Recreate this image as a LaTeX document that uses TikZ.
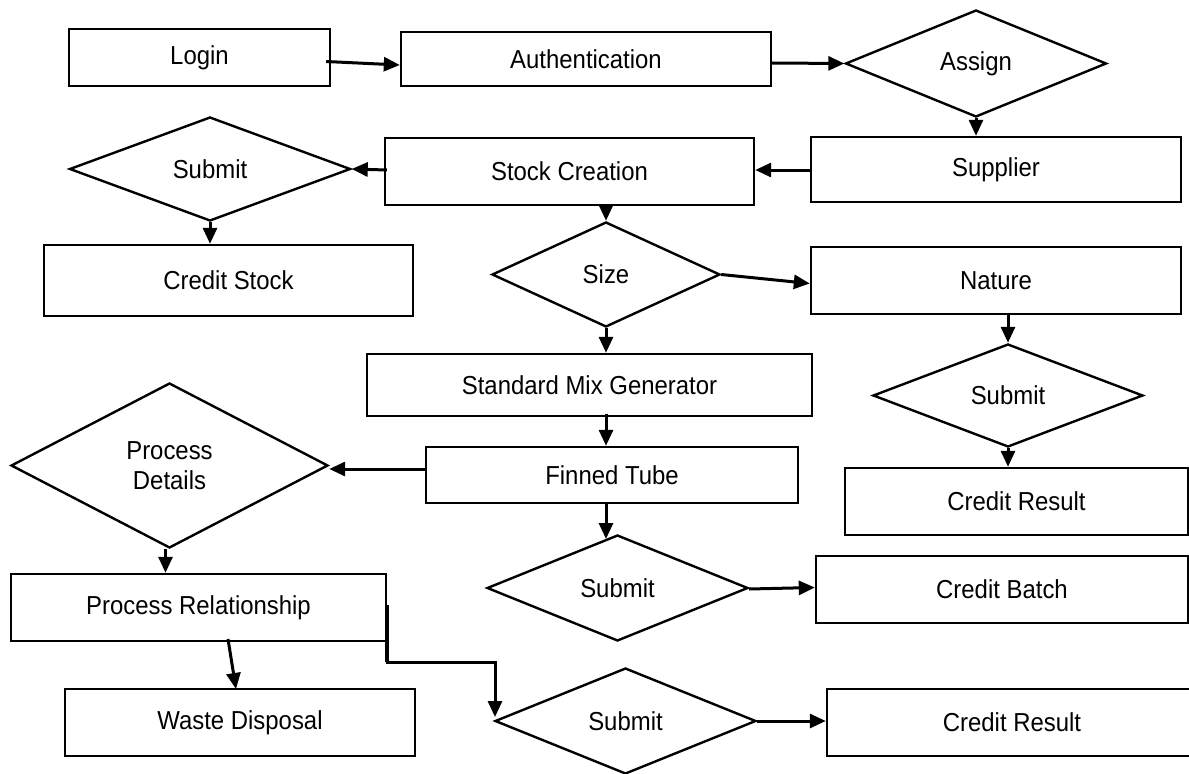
\documentclass[tikz,border=0pt]{standalone}
\usepackage{fontspec}
\setmainfont{Liberation Sans}[FakeStretch=0.92]
\usetikzlibrary{shapes.geometric,arrows.meta,calc}

\tikzset{
  box/.style={draw=black, line width=2.4bp, rectangle, inner sep=0pt,
    minimum width=#1},
  box/.default=370bp,
  dia/.style={draw=black, line width=2.4bp, diamond, inner sep=0pt, aspect=1},
  arr/.style={line width=3bp, -{Triangle[length=16bp,width=14bp]}},
  lbl/.style={font=\fontsize{26bp}{30bp}\selectfont}
}

\begin{document}
\begin{tikzpicture}[x=1bp, y=-1bp, lbl]
\useasboundingbox[fill=white] (0,0) rectangle (1189,774);

% process boxes
\node[box=261bp, minimum height=57bp] (login) at (199.5,57.5) {Login};
\node[box=370bp, minimum height=54bp] (auth) at (586,59) {Authentication};
\node[box=370bp, minimum height=65bp] (supplier) at (996,169.5) {Supplier};
\node[box=369bp, minimum height=67bp] (stock) at (569.5,171.5) {Stock Creation};
\node[box=369bp, minimum height=71bp] (cstock) at (228.5,280.5) {Credit Stock};
\node[box=370bp, minimum height=67bp] (nature) at (996,280.5) {Nature};
\node[box=445bp, minimum height=62bp] (mix) at (589.5,385) {Standard Mix Generator};
\node[box=372bp, minimum height=56bp] (fin) at (612,475) {Finned Tube};
\node[box=343bp, minimum height=67bp] (cres1) at (1016.5,501.5) {Credit Result};
\node[box=375bp, minimum height=67bp] (prel) at (198.5,607.5) {Process Relationship};
\node[box=372bp, minimum height=67bp] (cbatch) at (1002,589.5) {Credit Batch};
\node[box=350bp, minimum height=67bp] (waste) at (240,722.5) {Waste Disposal};
\node[box=374bp, minimum height=67bp] (cres2) at (1014,722.5) {};
\node at (1012,722) {Credit Result};

% decisions
\node[dia, minimum width=261bp, minimum height=107bp] (assign) at (976,63.5) {Assign};
\node[dia, minimum width=281bp, minimum height=104bp] (sub1) at (210,169) {Submit};
\node[dia, minimum width=228bp, minimum height=105bp] (size) at (606,274.5) {Size};
\node[dia, minimum width=270bp, minimum height=103bp] (sub2) at (1008,395.5) {Submit};
\node[dia, minimum width=317bp, minimum height=165bp, align=center] (pd) at (169.5,465.5)
  {\fontsize{26bp}{34bp}\selectfont Process\\Details};
\node[dia, minimum width=261bp, minimum height=106bp] (sub3) at (617.5,588) {Submit};
\node[dia, minimum width=261bp, minimum height=106bp] (sub4) at (625.5,721) {Submit};

% flow connectors
\draw[arr] ([xshift=-5bp,yshift=-4bp]login.east) -- ([yshift=-6bp]auth.west);
\draw[arr] ([yshift=-4bp]auth.east) -- (assign.west);
\draw[arr] (assign.south) -- (assign.south |- supplier.north);
\draw[arr] (supplier.west |- 0,170) -- (stock.east |- 0,170);
\draw[arr] ([xshift=3bp]stock.west |- 0,170) -- (sub1.east);
\draw[arr] (sub1.south) -- (sub1.south |- cstock.north);
\draw[arr] (size.north |- stock.south) -- (size.north);
\draw[arr] (size.east) -- ([yshift=-3bp]nature.west);
\draw[arr] (sub2.north |- nature.south) -- (sub2.north);
\draw[arr] (sub2.south) -- (sub2.south |- cres1.north);
\draw[arr] (size.south) -- (size.south |- mix.north);
\draw[arr] ([yshift=3bp]size.south |- mix.south) -- (size.south |- fin.north);
\draw[arr] (fin.west |- 0,469) -- (pd.east |- 0,469);
\coordinate (s3in) at (606,539);
\draw[arr] (s3in |- fin.south) -- (s3in);
\draw[arr] ([xshift=-4bp]pd.south) -- ([xshift=-4bp]pd.south |- prel.north);
\draw[arr] ([yshift=-1bp]sub3.east) -- ([yshift=2bp]cbatch.west);
\coordinate (wtop) at (236,689);
\draw[arr] (228,639) -- (wtop);
\draw[line width=4bp] (prel.east |- 0,605) -- (prel.east |- 0,662);
\coordinate (bend) at (495,662);
\draw[arr, line cap=rect] (prel.east |- bend) -- (bend) -- ([yshift=4bp]sub4.west -| bend);
\draw[arr] (sub4.east) -- (cres2.west |- sub4.east);
\end{tikzpicture}
\end{document}
